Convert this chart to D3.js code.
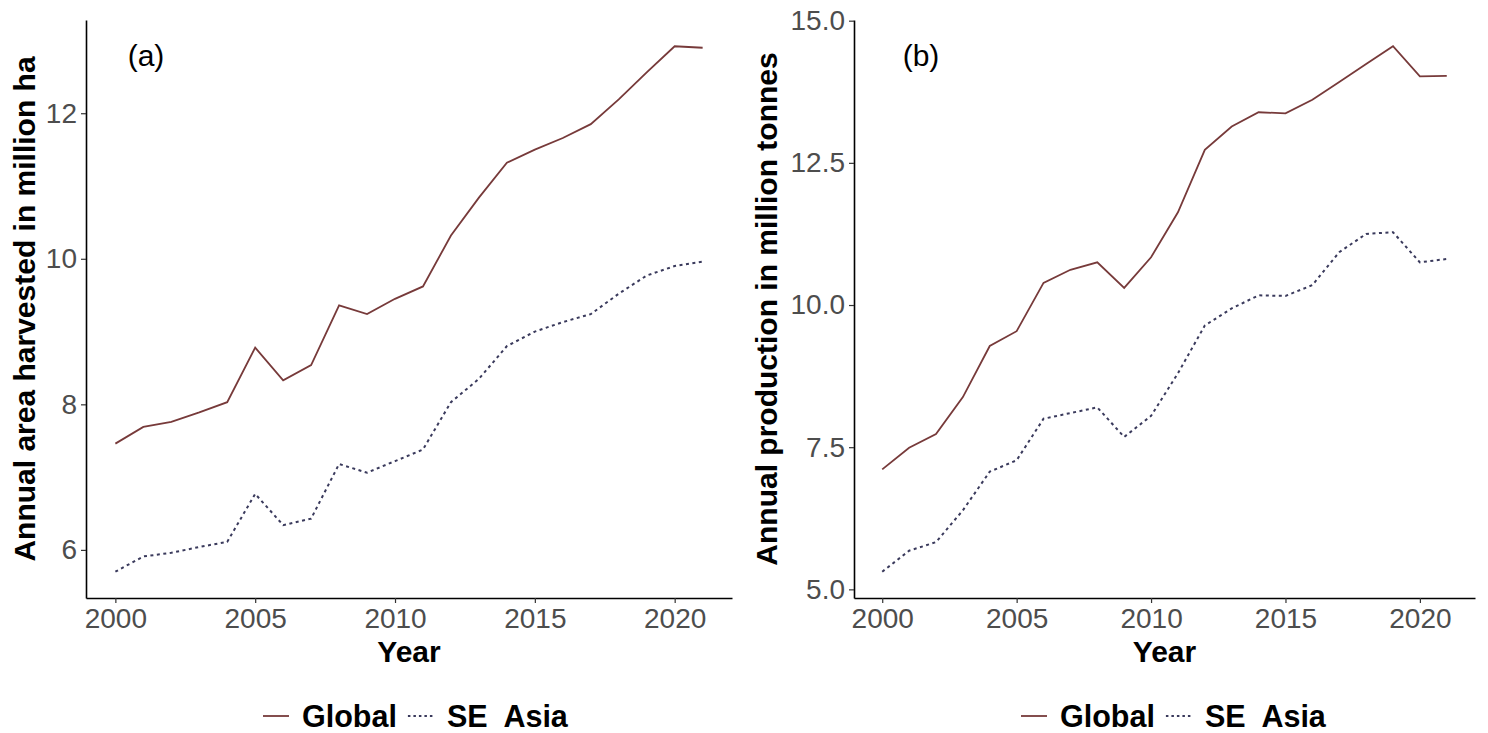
<!DOCTYPE html>
<html>
<head>
<meta charset="utf-8">
<script src="https://cdn.jsdelivr.net/npm/d3@7"></script>
<style>
  body { margin: 0; background: #fff; }
  svg { font-family: "Liberation Sans", Arial, sans-serif; }
</style>
</head>
<body>
<div id="chart"></div>
<script>
// ---- data ----
const years = d3.range(2000, 2022);

const areaGlobal = [7.46, 7.69, 7.76, 7.89, 8.03, 8.78, 8.33, 8.54, 9.36, 9.24, 9.45,
  9.62, 10.32, 10.84, 11.32, 11.50, 11.66, 11.85, 12.19, 12.56, 12.92, 12.90];
const areaSEAsia = [5.70, 5.91, 5.96, 6.04, 6.11, 6.77, 6.34, 6.43, 7.18, 7.06, 7.22,
  7.38, 8.03, 8.35, 8.80, 9.00, 9.13, 9.24, 9.52, 9.77, 9.90, 9.96];

const prodGlobal = [7.11, 7.49, 7.73, 8.38, 9.28, 9.54, 10.39, 10.62, 10.75, 10.30, 10.84,
  11.63, 12.73, 13.14, 13.39, 13.37, 13.61, 13.92, 14.24, 14.55, 14.02, 14.03];
const prodSEAsia = [5.31, 5.68, 5.83, 6.39, 7.07, 7.27, 8.00, 8.10, 8.20, 7.68, 8.05,
  8.80, 9.64, 9.94, 10.17, 10.16, 10.35, 10.93, 11.25, 11.28, 10.75, 10.81];

const xTicks = [2000, 2005, 2010, 2015, 2020];
const areaTicks = [6, 8, 10, 12];
const prodTicks = [5, 7.5, 10, 12.5, 15];

const seriesNames = ["Global", "SE  Asia"];

const colGlobal = "#773a3a";
const colSE = "#3a3a5c";

const svg = d3.select("#chart").append("svg")
  .attr("width", 1488).attr("height", 733);

function drawPanel(p) {
  const g = svg.append("g");

  const x = d3.scaleLinear()
    .domain([2000 - 1.05, 2021 + 1.05])
    .range([p.left, p.right]);

  const all = p.global.concat(p.se);
  const lo = d3.min(all), hi = d3.max(all), pad = (hi - lo) * 0.05;
  const y = d3.scaleLinear()
    .domain([lo - pad, hi + pad])
    .range([p.bottom, p.top]);

  // x axis
  const xa = g.append("g")
    .attr("transform", `translate(0,${p.bottom})`)
    .call(d3.axisBottom(x).tickValues(xTicks).tickFormat(d3.format("d"))
      .tickSizeInner(5).tickSizeOuter(0).tickPadding(5));
  xa.select(".domain").attr("stroke", "#000").attr("stroke-width", 1.6);
  xa.selectAll(".tick line").attr("stroke", "#333").attr("stroke-width", 1.2);
  xa.selectAll(".tick text").attr("fill", "#4d4d4d").attr("font-size", "28px")
    .attr("font-family", "Liberation Sans, Arial, sans-serif");

  // y axis
  const ya = g.append("g")
    .attr("transform", `translate(${p.left},0)`)
    .call(d3.axisLeft(y).tickValues(p.yTicks).tickFormat(p.fmt)
      .tickSizeInner(5).tickSizeOuter(0).tickPadding(4));
  ya.select(".domain").attr("stroke", "#000").attr("stroke-width", 1.6);
  ya.selectAll(".tick line").attr("stroke", "#333").attr("stroke-width", 1.2);
  ya.selectAll(".tick text").attr("fill", "#4d4d4d").attr("font-size", "28px")
    .attr("font-family", "Liberation Sans, Arial, sans-serif");

  // axis titles
  g.append("text")
    .attr("x", (p.left + p.right) / 2).attr("y", 662)
    .attr("text-anchor", "middle")
    .attr("font-size", "30px").attr("font-weight", "bold").attr("fill", "#000")
    .text("Year");

  g.append("text")
    .attr("transform", `translate(${p.titleX},${(p.top + p.bottom) / 2}) rotate(-90)`)
    .attr("text-anchor", "middle")
    .attr("font-size", "30px").attr("font-weight", "bold").attr("fill", "#000")
    .text(p.yTitle);

  // panel letter
  g.append("text")
    .attr("x", p.labelX).attr("y", 66)
    .attr("text-anchor", "middle")
    .attr("font-size", "30px").attr("fill", "#000")
    .text(p.label);

  // lines
  const line = d3.line().x((d, i) => x(years[i])).y(d => y(d));

  g.append("path").datum(p.global)
    .attr("d", line).attr("fill", "none")
    .attr("stroke", colGlobal).attr("stroke-width", 1.8);

  g.append("path").datum(p.se)
    .attr("d", line).attr("fill", "none")
    .attr("stroke", colSE).attr("stroke-width", 2)
    .attr("stroke-dasharray", "3,3.5");

  // legend
  const lg = g.append("g");
  let lx = 0;
  seriesNames.forEach((name, i) => {
    lg.append("line")
      .attr("x1", lx).attr("x2", lx + 26).attr("y1", 0).attr("y2", 0)
      .attr("stroke", i === 0 ? colGlobal : colSE).attr("stroke-width", i === 0 ? 1.8 : 2)
      .attr("stroke-dasharray", i === 0 ? null : "2.5,3");
    const t = lg.append("text")
      .attr("x", lx + 39).attr("y", 11)
      .attr("font-size", "30.5px").attr("font-weight", "bold").attr("fill", "#000")
      .style("white-space", "pre")
      .text(name);
    lx += 39 + t.node().getComputedTextLength() + 11;
  });
  lg.attr("transform", `translate(${p.legendX},716)`);
}

drawPanel({
  left: 86, right: 732, top: 20, bottom: 598,
  global: areaGlobal, se: areaSEAsia,
  yTicks: areaTicks, fmt: d3.format("d"),
  yTitle: "Annual area harvested in million ha",
  titleX: 35, label: "(a)", labelX: 146, legendX: 263
});

drawPanel({
  left: 854, right: 1475, top: 20, bottom: 598,
  global: prodGlobal, se: prodSEAsia,
  yTicks: prodTicks, fmt: d3.format(".1f"),
  yTitle: "Annual production in million tonnes",
  titleX: 777, label: "(b)", labelX: 921, legendX: 1021
});
</script>
</body>
</html>
